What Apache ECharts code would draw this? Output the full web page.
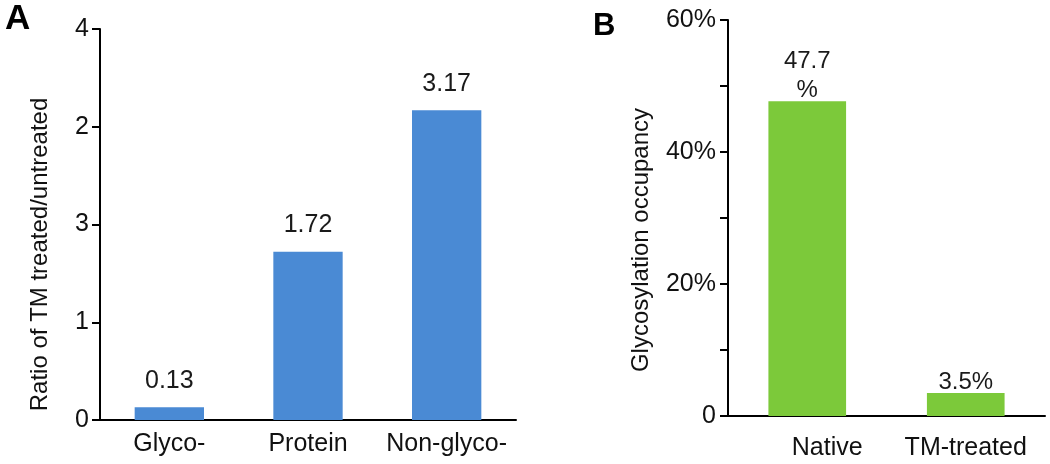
<!DOCTYPE html>
<html>
<head>
<meta charset="utf-8">
<script src="https://cdn.jsdelivr.net/npm/echarts@6/dist/echarts.min.js"></script>
<style>html,body{margin:0;padding:0;background:#fff}#c{width:1050px;height:464px}</style>
</head>
<body>
<div id="c"></div>
<script>
// Panel A
const catsA = ['Glyco-', 'Protein', 'Non-glyco-'];
const valuesA = [0.13, 1.72, 3.17];
const labelsA = ['0.13', '1.72', '3.17'];
const tickLabelsA = ['0', '1', '3', '2', '4'];
// Panel B
const catsB = ['Native', 'TM-treated'];
const valuesB = [47.7, 3.5];
const labelsB = ['47.7\n%', '3.5%'];
const tickLabelsB = ['0', '', '20%', '', '40%', '', '60%'];

const FONT = 'Liberation Sans, Arial, sans-serif';
const TXT = '#111';
const chart = echarts.init(document.getElementById('c'));
chart.setOption({
  animation: false,
  backgroundColor: '#fff',
  title: [
    {text: 'A', left: 0, top: -3, textStyle: {fontFamily: FONT, fontWeight: 'bold', fontSize: 35, color: '#000'}},
    {text: 'B', left: 588, top: 6, textStyle: {fontFamily: FONT, fontWeight: 'bold', fontSize: 31, color: '#000'}}
  ],
  grid: [
    {left: 100, top: 29, width: 416, height: 391},
    {left: 728, top: 20, width: 317, height: 396}
  ],
  xAxis: [
    {type: 'category', gridIndex: 0, data: catsA,
     axisLine: {lineStyle: {color: '#000', width: 2}},
     axisTick: {length: 8, lineStyle: {color: '#000', width: 2}},
     axisLabel: {interval: 0, fontFamily: FONT, fontSize: 25, color: TXT, margin: 12}},
    {type: 'category', gridIndex: 1,
     data: [{value: catsB[0], textStyle: {padding: [0, 0, 0, 40]}}, catsB[1]],
     axisLine: {lineStyle: {color: '#000', width: 2}},
     axisTick: {length: 8, lineStyle: {color: '#000', width: 2}},
     axisLabel: {interval: 0, fontFamily: FONT, fontSize: 25, color: TXT, margin: 20}}
  ],
  yAxis: [
    {type: 'value', gridIndex: 0, min: 0, max: 4, interval: 1,
     name: 'Ratio of TM treated/untreated', nameLocation: 'middle', nameGap: 48,
     nameTextStyle: {fontFamily: FONT, fontSize: 24, color: TXT, padding: [0, 60, 0, 0]},
     axisLine: {show: true, lineStyle: {color: '#000', width: 2}},
     axisTick: {show: true, length: 8, lineStyle: {color: '#000', width: 2}},
     splitLine: {show: false},
     axisLabel: {fontFamily: FONT, fontSize: 25, color: TXT, margin: 11,
       formatter: (v) => tickLabelsA[Math.round(v)]}},
    {type: 'value', gridIndex: 1, min: 0, max: 60, interval: 10,
     name: 'Glycosylation occupancy', nameLocation: 'middle', nameGap: 75,
     nameTextStyle: {fontFamily: FONT, fontSize: 24, color: TXT, padding: [0, 44, 0, 0]},
     axisLine: {show: true, lineStyle: {color: '#000', width: 2}},
     axisTick: {show: true, length: 8, lineStyle: {color: '#000', width: 2}},
     splitLine: {show: false},
     axisLabel: {fontFamily: FONT, fontSize: 25, color: TXT, margin: 12,
       formatter: (v) => tickLabelsB[Math.round(v / 10)]}}
  ],
  series: [
    {type: 'bar', xAxisIndex: 0, yAxisIndex: 0, data: valuesA, barWidth: '50%',
     itemStyle: {color: '#4a8ad4'},
     label: {show: true, position: 'top', distance: 14, fontFamily: FONT, fontSize: 25, color: '#1a1a1a',
       formatter: (p) => labelsA[p.dataIndex]}},
    {type: 'bar', xAxisIndex: 1, yAxisIndex: 1, data: valuesB, barWidth: '49%',
     itemStyle: {color: '#7cc93a'},
     label: {show: true, position: 'top', distance: -4, fontFamily: FONT, fontSize: 24, lineHeight: 29, color: '#1a1a1a',
       formatter: (p) => labelsB[p.dataIndex]}}
  ]
});
</script>
</body>
</html>
